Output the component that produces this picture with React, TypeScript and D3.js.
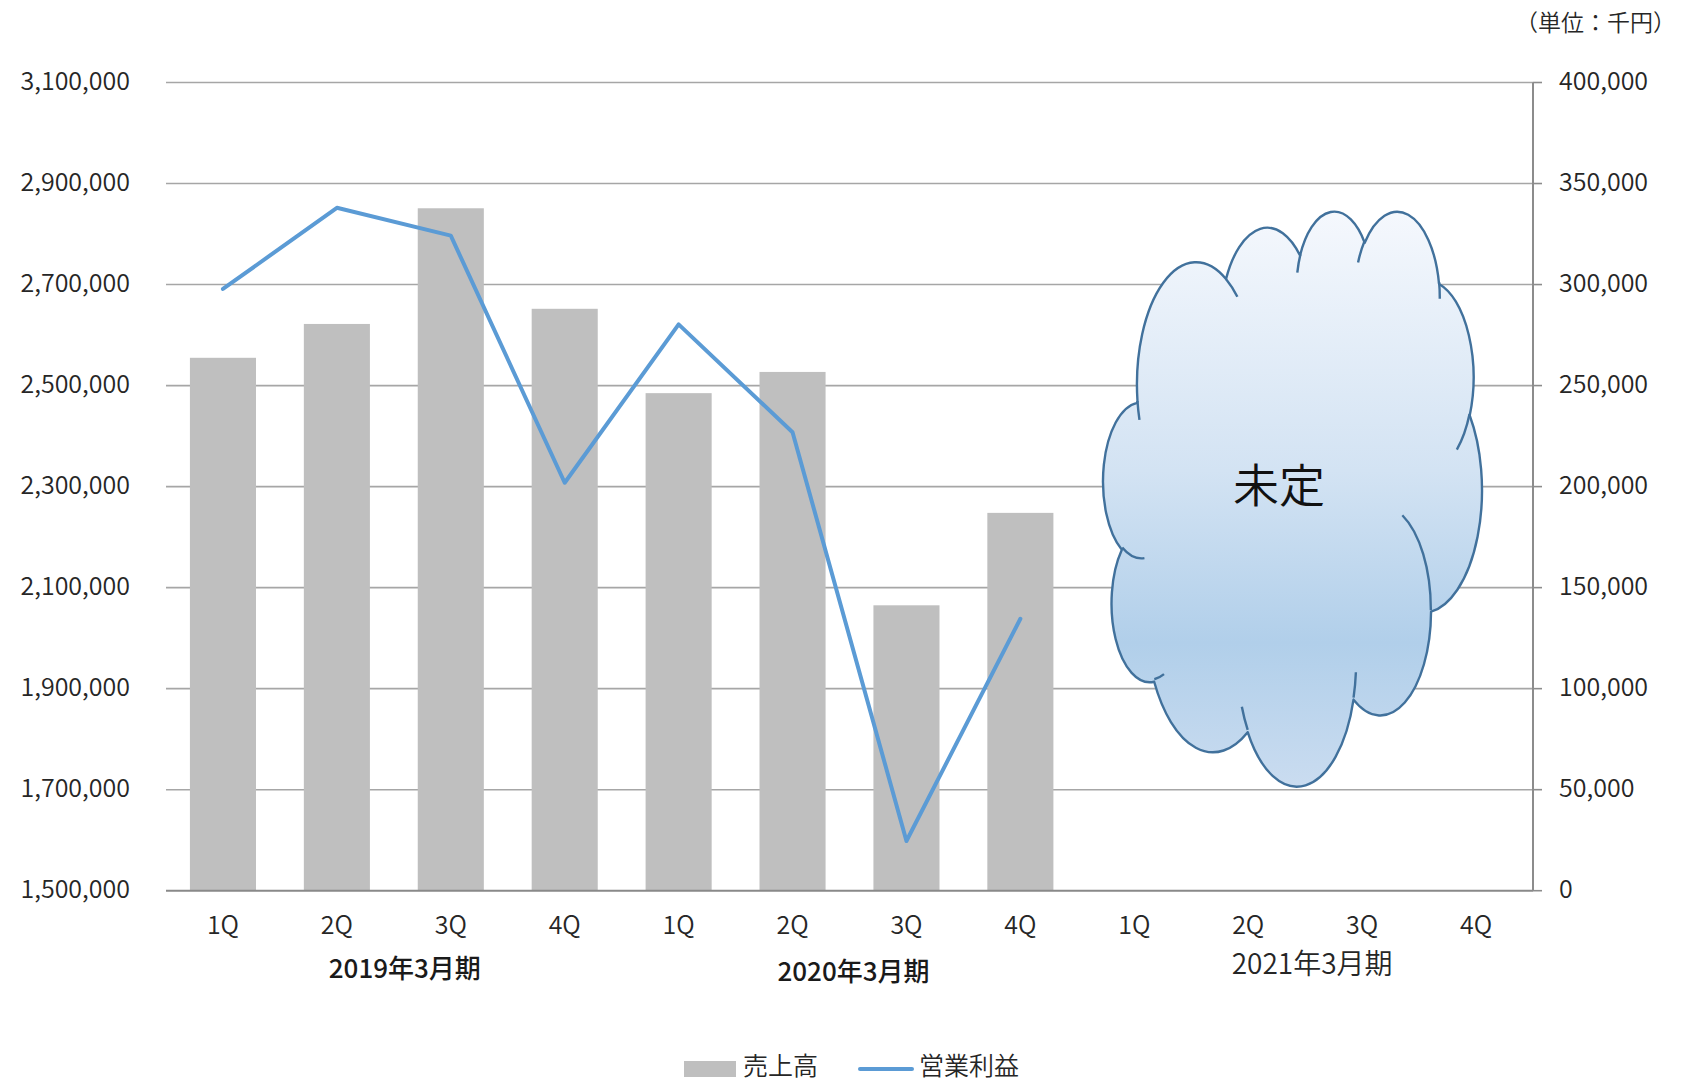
import React from 'react';
import * as d3 from 'd3';

// ---------- data ----------
const quarters = ['1Q', '2Q', '3Q', '4Q', '1Q', '2Q', '3Q', '4Q', '1Q', '2Q', '3Q', '4Q'];
const fiscalYears = ['2019年3月期', '2020年3月期', '2021年3月期'];
const sales = [2555000, 2622000, 2851000, 2652000, 2485000, 2527000, 2065000, 2248000];
const operatingProfit = [297800, 338000, 324200, 201900, 280300, 226900, 24600, 134600];
const leftTicks = [1500000, 1700000, 1900000, 2100000, 2300000, 2500000, 2700000, 2900000, 3100000];
const rightTicks = [0, 50000, 100000, 150000, 200000, 250000, 300000, 350000, 400000];
const seriesNames = ['売上高', '営業利益'];
const unitLabel = '（単位：千円）';
const cloudLabel = '未定';

// ---------- layout ----------
const W = 1684;
const H = 1081;
const PL = 166;
const PR = 1533;
const PT = 82.5;
const PB = 890.7;
const FONT = "'Noto Sans CJK JP', 'Noto Sans', sans-serif";
const TEXT = '#262626';
const TW = 350;
const yearLabelLayout = [
  { dx: 11, y: 978, size: 26, weight: 500, fill: '#1a1a1a' },
  { dx: 4, y: 981, size: 26, weight: 500, fill: '#1a1a1a' },
  { dx: 7, y: 974, size: 28, weight: 350, fill: '#262626' },
];
const cloudBox = { x0: 1103, x1: 1482, y0: 211.7, y1: 786.7 };

// Office "cloud" preset geometry (43200 x 43200 path space)
const cloudStart: [number, number] = [3900, 14370];
const cloudArcs: number[][] = [
  [6753, 9190, -11429249, 7426832],
  [5333, 7267, -8646143, 5396714],
  [4365, 5945, -8748475, 5983381],
  [4857, 6595, -7859164, 7034504],
  [5333, 7273, -4722533, 6541615],
  [6775, 9220, -2776035, 7816140],
  [5785, 7867, 37501, 6842000],
  [6752, 9215, 1347096, 6910353],
  [7720, 10543, 3974558, 4542661],
  [4360, 5918, -16496525, 8804134],
  [4345, 5945, -14809710, 9151131],
];
const cloudInner: number[][] = [
  [4693, 26177, 4345, 5945, 5204520, 1585770],
  [6928, 34899, 4360, 5918, 4416628, 686848],
  [16478, 39090, 6752, 9215, 8257449, 844866],
  [28827, 34751, 6752, 9215, 387196, 959901],
  [34129, 22954, 5785, 7867, -4217541, 4255042],
  [41798, 15354, 5333, 7273, 1819082, 1665090],
  [38324, 5426, 4857, 6595, -824660, 891534],
  [29078, 3952, 4857, 6595, -8950887, 1091722],
  [22141, 4720, 4365, 5945, -9809656, 1061181],
  [14000, 5192, 6753, 9190, -4002417, 739161],
  [4127, 15789, 6753, 9190, 9459261, 711490],
];

function ellPt(wR: number, hR: number, angDeg: number): [number, number] {
  const t = (angDeg * Math.PI) / 180;
  const c = Math.cos(t);
  const s = Math.sin(t);
  const r = (wR * hR) / Math.hypot(hR * c, wR * s);
  return [r * c, r * s];
}

type Seg = { from: [number, number]; wR: number; hR: number; st: number; sw: number; to: [number, number]; c: [number, number] };

function arcSeg(cur: [number, number], wR: number, hR: number, stA: number, swA: number): Seg {
  const st = stA / 60000;
  const sw = swA / 60000;
  const p0 = ellPt(wR, hR, st);
  const c: [number, number] = [cur[0] - p0[0], cur[1] - p0[1]];
  const p1 = ellPt(wR, hR, st + sw);
  return { from: cur, wR, hR, st, sw, to: [c[0] + p1[0], c[1] + p1[1]], c };
}

function buildCloud() {
  const outer: Seg[] = [];
  let cur = cloudStart;
  cloudArcs.forEach(([wR, hR, st, sw]) => {
    const s = arcSeg(cur, wR, hR, st, sw);
    outer.push(s);
    cur = s.to;
  });
  const inner: Seg[] = cloudInner.map(([x, y, wR, hR, st, sw]) => arcSeg([x, y], wR, hR, st, sw));
  let minX = Infinity, maxX = -Infinity, minY = Infinity, maxY = -Infinity;
  outer.forEach((s) => {
    for (let k = 0; k <= 60; k++) {
      const a = s.st + (s.sw * k) / 60;
      const p = ellPt(s.wR, s.hR, a);
      const x = s.c[0] + p[0];
      const y = s.c[1] + p[1];
      minX = Math.min(minX, x); maxX = Math.max(maxX, x);
      minY = Math.min(minY, y); maxY = Math.max(maxY, y);
    }
  });
  const sx = (cloudBox.x1 - cloudBox.x0) / (maxX - minX);
  const sy = (cloudBox.y1 - cloudBox.y0) / (maxY - minY);
  const tx = (x: number) => cloudBox.x0 + (x - minX) * sx;
  const ty = (y: number) => cloudBox.y0 + (y - minY) * sy;
  const arcCmd = (s: Seg) =>
    `A${s.wR * sx},${s.hR * sy} 0 ${Math.abs(s.sw) > 180 ? 1 : 0} ${s.sw > 0 ? 1 : 0} ${tx(s.to[0])},${ty(s.to[1])}`;
  const outerD = `M${tx(cloudStart[0])},${ty(cloudStart[1])}` + outer.map(arcCmd).join('') + 'Z';
  const innerD = inner.map((s) => `M${tx(s.from[0])},${ty(s.from[1])}${arcCmd(s)}`).join('');
  return { outerD, innerD };
}

export default function App() {
  const x = d3
    .scaleBand<number>()
    .domain(d3.range(quarters.length))
    .range([PL, PR])
    .paddingInner(0.42)
    .paddingOuter(0.21);
  const yL = d3.scaleLinear().domain([1500000, 3100000]).range([PB, PT]);
  const yR = d3.scaleLinear().domain([0, 400000]).range([PB, PT]);
  const bw = x.bandwidth();
  const cx = (i: number) => (x(i) as number) + bw / 2;

  const line = d3
    .line<number>()
    .x((_, i) => cx(i))
    .y((d) => yR(d));

  const { outerD, innerD } = buildCloud();
  const step = x.step();

  return (
    <svg width={W} height={H} style={{ position: 'absolute', left: 0, top: 0, display: 'block', background: '#fff' }}>
      <defs>
        <linearGradient id="cloudFill" x1="0" y1="0" x2="0" y2="1">
          <stop offset="0" stopColor="#f5f8fd" />
          <stop offset="0.45" stopColor="#d3e3f3" />
          <stop offset="0.75" stopColor="#b1cfea" />
          <stop offset="1" stopColor="#cadcf0" />
        </linearGradient>
      </defs>

      {/* gridlines */}
      {leftTicks.slice(1).map((t) => (
        <line key={'g' + t} x1={PL} x2={PR} y1={yL(t)} y2={yL(t)} stroke="#a6a6a6" strokeWidth={1.6} />
      ))}

      {/* bars */}
      {sales.map((v, i) => (
        <rect key={'b' + i} x={x(i)} y={yL(v)} width={bw} height={PB - yL(v)} fill="#bfbfbf" />
      ))}

      {/* axes */}
      <line x1={PL} x2={PR} y1={PB} y2={PB} stroke="#898989" strokeWidth={2} />
      <line x1={PR} x2={PR} y1={PT} y2={PB} stroke="#8c8c8c" strokeWidth={2} />
      {rightTicks.map((t) => (
        <line key={'rt' + t} x1={PR} x2={PR + 9} y1={yR(t)} y2={yR(t)} stroke="#8c8c8c" strokeWidth={1.6} />
      ))}

      {/* line series */}
      <path d={line(operatingProfit) || ''} fill="none" stroke="#5b9bd5" strokeWidth={4} strokeLinejoin="round" strokeLinecap="round" />

      {/* left tick labels */}
      {leftTicks.map((t) => (
        <text key={'lt' + t} x={130} y={yL(t) + 7.7} textAnchor="end" fontFamily={FONT} fontSize={25} fontWeight={TW} fill={TEXT}>
          {d3.format(',')(t)}
        </text>
      ))}
      {/* right tick labels */}
      {rightTicks.map((t) => (
        <text key={'rl' + t} x={1559} y={yR(t) + 7.7} textAnchor="start" fontFamily={FONT} fontSize={25} fontWeight={TW} fill={TEXT}>
          {d3.format(',')(t)}
        </text>
      ))}

      {/* category labels */}
      {quarters.map((q, i) => (
        <text key={'q' + i} x={cx(i)} y={934} textAnchor="middle" fontFamily={FONT} fontSize={25} fontWeight={TW} fill={TEXT}>
          {q}
        </text>
      ))}
      {fiscalYears.map((fy, g) => (
        <text
          key={fy}
          x={PL + (4 * g + 2) * step + yearLabelLayout[g].dx}
          y={yearLabelLayout[g].y}
          textAnchor="middle"
          fontFamily={FONT}
          fontSize={yearLabelLayout[g].size}
          fontWeight={yearLabelLayout[g].weight}
          fill={yearLabelLayout[g].fill}
        >
          {fy}
        </text>
      ))}

      {/* unit */}
      <text x={1676} y={31} textAnchor="end" fontFamily={FONT} fontSize={23} fontWeight={TW} fill={TEXT}>
        {unitLabel}
      </text>

      {/* cloud annotation */}
      <path d={outerD} fill="url(#cloudFill)" stroke="#41719c" strokeWidth={2.4} strokeLinejoin="round" />
      <path d={innerD} fill="none" stroke="#41719c" strokeWidth={2.4} />
      <text x={1279} y={502} textAnchor="middle" fontFamily={FONT} fontSize={46} fontWeight={TW} fill="#111">
        {cloudLabel}
      </text>

      {/* legend */}
      <rect x={684} y={1061} width={52} height={16} fill="#bfbfbf" />
      <text x={743} y={1075} fontFamily={FONT} fontSize={25} fontWeight={TW} fill={TEXT}>
        {seriesNames[0]}
      </text>
      <line x1={860} x2={912} y1={1069} y2={1069} stroke="#5b9bd5" strokeWidth={4} strokeLinecap="round" />
      <text x={919} y={1075} fontFamily={FONT} fontSize={25} fontWeight={TW} fill={TEXT}>
        {seriesNames[1]}
      </text>
    </svg>
  );
}
